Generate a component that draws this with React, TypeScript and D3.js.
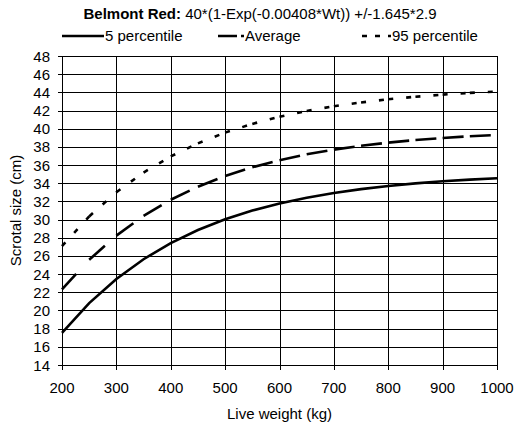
import * as d3 from "d3";

// Live weight (kg) at which each series was read
const weights = [200, 250, 300, 350, 400, 450, 500, 550, 600, 650, 700, 750, 800, 850, 900, 950, 1000];
// Scrotal size (cm)
const p5 = [17.54, 20.81, 23.47, 25.64, 27.41, 28.85, 30.03, 30.99, 31.77, 32.41, 32.93, 33.35, 33.7, 33.98, 34.21, 34.4, 34.55];
const average = [22.31, 25.58, 28.24, 30.41, 32.18, 33.62, 34.8, 35.76, 36.54, 37.18, 37.7, 38.12, 38.47, 38.75, 38.98, 39.17, 39.32];
const p95 = [27.08, 30.35, 33.01, 35.18, 36.95, 38.39, 39.57, 40.53, 41.31, 41.95, 42.47, 42.89, 43.24, 43.52, 43.75, 43.94, 44.09];

const xTicks = [200, 300, 400, 500, 600, 700, 800, 900, 1000];
const yTicks = [14, 16, 18, 20, 22, 24, 26, 28, 30, 32, 34, 36, 38, 40, 42, 44, 46, 48];

const width = 522;
const height = 434;
const marginLeft = 62;
const marginRight = 25;
const marginTop = 56;
const marginBottom = 69;
const font = "'Liberation Sans', Arial, sans-serif";

export default function App() {
  const x = d3.scaleLinear().domain([200, 1000]).range([marginLeft, width - marginRight]);
  const y = d3.scaleLinear().domain([14, 48]).range([height - marginBottom, marginTop]);

  const line = d3
    .line<[number, number]>()
    .x((d) => x(d[0]))
    .y((d) => y(d[1]));

  const pts = (vals: number[]) => weights.map((w, i) => [w, vals[i]] as [number, number]);

  // dashes start again at every data point, as in the original
  const segments = (vals: number[], dash: string) => {
    const p = pts(vals);
    return p.slice(1).map((d, i) => (
      <path key={i} d={line([p[i], d]) ?? ""} fill="none" stroke="#000" strokeWidth={2.6} strokeDasharray={dash} />
    ));
  };

  const ly = 36;

  return (
    <svg width={width} height={height} style={{ position: "absolute", left: 0, top: 0, background: "#fff" }}>
      <text x={260} y={19} textAnchor="middle" fontFamily={font} fontSize={15}>
        <tspan fontWeight="bold">Belmont Red: </tspan>
        <tspan>40*(1-Exp(-0.00408*Wt)) +/-1.645*2.9</tspan>
      </text>

      {/* legend */}
      <g fontFamily={font} fontSize={15}>
        <line x1={62} x2={104} y1={ly} y2={ly} stroke="#000" strokeWidth={2.6} />
        <text x={105} y={ly + 5}>5 percentile</text>
        <line x1={218} x2={244} y1={ly} y2={ly} stroke="#000" strokeWidth={2.6} strokeDasharray="19,4" />
        <text x={245} y={ly + 5}>Average</text>
        <line x1={362} x2={391} y1={ly} y2={ly} stroke="#000" strokeWidth={2.6} strokeDasharray="5,8" />
        <text x={392} y={ly + 5}>95 percentile</text>
      </g>

      {/* grid */}
      <g stroke="#000" strokeWidth={1}>
        {yTicks.map((t) => (
          <line key={"h" + t} x1={marginLeft - 4} x2={width - marginRight} y1={Math.round(y(t)) + 0.5} y2={Math.round(y(t)) + 0.5} />
        ))}
        {xTicks.map((t) => (
          <line key={"v" + t} x1={Math.round(x(t)) + 0.5} x2={Math.round(x(t)) + 0.5} y1={marginTop} y2={height - marginBottom + 5} />
        ))}
      </g>

      <g fontFamily={font} fontSize={15}>
        {yTicks.map((t) => (
          <text key={t} x={marginLeft - 12} y={y(t) + 5.5} textAnchor="end">
            {t}
          </text>
        ))}
        {xTicks.map((t) => (
          <text key={t} x={x(t)} y={height - marginBottom + 28} textAnchor="middle">
            {t}
          </text>
        ))}
        <text x={x(600)} y={height - 15} textAnchor="middle">
          Live weight (kg)
        </text>
        <text transform={`translate(21,${(marginTop + height - marginBottom) / 2}) rotate(-90)`} textAnchor="middle">
          Scrotal size (cm)
        </text>
      </g>

      <path d={line(pts(p5)) ?? ""} fill="none" stroke="#000" strokeWidth={2.6} />
      {segments(average, "21,20")}
      {segments(p95, "5,13")}
    </svg>
  );
}
